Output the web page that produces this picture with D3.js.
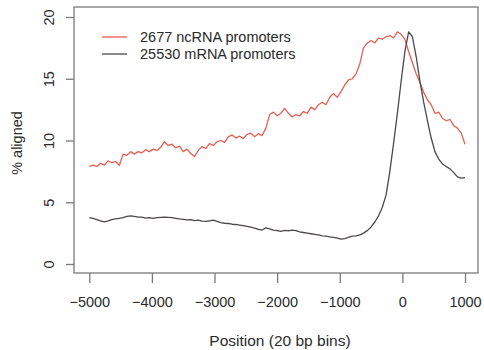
<!DOCTYPE html>
<html>
<head>
<meta charset="utf-8">
<script src="https://cdn.jsdelivr.net/npm/d3@7"></script>
<style>
  html, body { margin: 0; padding: 0; background: #fff; }
  svg { display: block; font-family: "Liberation Sans", Arial, sans-serif; }
</style>
</head>
<body>
<svg id="chart" width="484" height="350"></svg>
<script>
// Bin positions (bp relative to TSS), sampled every 60 bp
const positions = d3.range(-5000, 1001, 60);

// % of reads aligned per bin, ncRNA promoters
const ncRNA = [
  7.9, 8.0, 7.9, 8.15, 8.0, 8.35, 8.2, 8.3, 8.0, 8.9,
  8.8, 9.1, 8.9, 9.1, 9.0, 9.25, 9.1, 9.3, 9.2, 9.45,
  9.9, 9.6, 9.7, 9.4, 9.55, 9.1, 9.3, 8.95, 8.7, 9.2,
  9.5, 9.35, 9.75, 9.6, 9.9, 10.0, 9.85, 10.3, 10.45, 10.2,
  10.35, 10.15, 10.5, 10.6, 10.3, 10.55, 10.4, 11.0, 12.1, 12.3,
  12.0, 12.2, 12.6, 12.2, 11.9, 12.1, 12.0, 12.35, 12.2, 12.7,
  12.5, 12.9, 13.1, 12.9, 13.5, 13.8, 13.5, 13.95, 14.5, 14.9,
  15.0, 15.4, 16.2, 17.5, 17.9, 18.1, 17.9, 18.3, 18.2, 18.4,
  18.5, 18.3, 18.8, 18.6, 18.2, 17.2, 16.3, 15.4, 14.7, 13.9,
  13.3, 12.9, 12.2, 12.3, 11.8, 11.6, 11.7, 11.2, 11.0, 10.6,
  9.7
];

// % of reads aligned per bin, mRNA promoters
const mRNA = [
  3.75, 3.7, 3.6, 3.5, 3.42, 3.5, 3.6, 3.65, 3.7, 3.75,
  3.85, 3.9, 3.85, 3.8, 3.8, 3.72, 3.75, 3.7, 3.75, 3.78,
  3.8, 3.78, 3.75, 3.7, 3.65, 3.62, 3.58, 3.6, 3.52, 3.55,
  3.48, 3.45, 3.5, 3.55, 3.45, 3.35, 3.3, 3.28, 3.22, 3.2,
  3.15, 3.1, 3.05, 2.98, 2.9, 2.8, 2.75, 2.92, 2.85, 2.75,
  2.7, 2.65, 2.72, 2.68, 2.75, 2.7, 2.6, 2.55, 2.5, 2.45,
  2.4, 2.35, 2.28, 2.25, 2.2, 2.15, 2.1, 2.02, 2.05, 2.15,
  2.25, 2.28, 2.35, 2.5, 2.7, 3.0, 3.4, 3.9, 4.6, 5.6,
  7.5, 9.8, 12.2, 14.8, 17.2, 18.8, 18.4, 16.8, 14.8, 13.1,
  11.6, 10.2, 9.1, 8.5, 8.1, 7.9, 7.7, 7.4, 7.05, 6.95,
  7.0
];

const xTicks = [-5000, -4000, -3000, -2000, -1000, 0, 1000];
const yTicks = [0, 5, 10, 15, 20];
const legendLabels = ["2677 ncRNA promoters", "25530 mRNA promoters"];
const seriesColors = ["#e85e52", "#4d4748"];

const svg = d3.select("#chart");
const axisColor = "#7a7a7a";
const textColor = "#2a2a2a";

const x = d3.scaleLinear().domain([-5000, 1000]).range([89.3, 465]);
const y = d3.scaleLinear().domain([0, 20]).range([264, 17]);

// Plot frame
const frame = { left: 74, right: 478, top: 7, bottom: 273 };
svg.append("rect")
  .attr("x", frame.left).attr("y", frame.top)
  .attr("width", frame.right - frame.left)
  .attr("height", frame.bottom - frame.top)
  .attr("fill", "none").attr("stroke", axisColor).attr("stroke-width", 1.3);

// X axis
const xAxis = d3.axisBottom(x).tickValues(xTicks).tickSize(10).tickPadding(14)
  .tickFormat(d => d < 0 ? "\u2212" + Math.abs(d) : String(d));
const gx = svg.append("g").attr("transform", `translate(0,${frame.bottom})`).call(xAxis);
gx.select(".domain").remove();
gx.selectAll(".tick line").attr("stroke", axisColor).attr("stroke-width", 1.3);
gx.selectAll(".tick text").attr("fill", textColor).attr("font-size", 14.5);

// Y axis
const yAxis = d3.axisLeft(y).tickValues(yTicks).tickSize(8).tickPadding(6);
const gy = svg.append("g").attr("transform", `translate(${frame.left},0)`).call(yAxis);
gy.select(".domain").remove();
gy.selectAll(".tick line").attr("stroke", axisColor).attr("stroke-width", 1.3);
gy.selectAll(".tick text")
  .attr("fill", textColor).attr("font-size", 14.5)
  .attr("x", null).attr("dy", null)
  .attr("text-anchor", "middle")
  .attr("transform", "translate(-20,0) rotate(-90)")
  .attr("y", 0);

// Axis titles
svg.append("text")
  .attr("x", 280).attr("y", 346)
  .attr("text-anchor", "middle").attr("font-size", 15.5).attr("fill", textColor)
  .text("Position (20 bp bins)");
svg.append("text")
  .attr("transform", "translate(22,143) rotate(-90)")
  .attr("text-anchor", "middle").attr("font-size", 14.5).attr("fill", textColor)
  .text("% aligned");

// Series lines
const line = d3.line().x((d, i) => x(positions[i])).y(d => y(d));
[ncRNA, mRNA].forEach((vals, i) => {
  svg.append("path")
    .datum(vals)
    .attr("d", line)
    .attr("fill", "none")
    .attr("stroke", seriesColors[i])
    .attr("stroke-width", 1.3)
    .attr("stroke-linejoin", "round");
});

// Legend
const legend = svg.append("g");
legendLabels.forEach((lab, i) => {
  const ly = 37 + i * 17;
  legend.append("line")
    .attr("x1", 102).attr("x2", 127).attr("y1", ly).attr("y2", ly)
    .attr("stroke", seriesColors[i]).attr("stroke-width", 1.3);
  legend.append("text")
    .attr("x", 140).attr("y", ly + 5)
    .attr("font-size", 14.5).attr("fill", textColor)
    .text(lab);
});
</script>
</body>
</html>
